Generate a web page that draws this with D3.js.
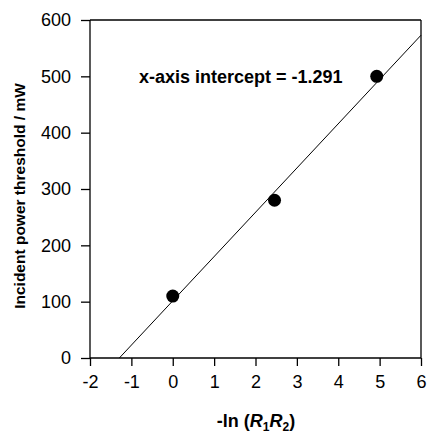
<!DOCTYPE html>
<html>
<head>
<meta charset="utf-8">
<script src="https://cdn.jsdelivr.net/npm/d3@7"></script>
<style>
  body { margin: 0; background: #fff; }
  text { font-family: Arial, "Liberation Sans", sans-serif; fill: #000; }
</style>
</head>
<body>
<script>
const WIDTH = 427;
const HEIGHT = 435;

// measured points
var xValues = [0, 2.46, 4.93];
var yValues = [110, 280, 500];

// fitted line
var fitX = [-1.291, 6];
var fitY = [0, 573];

var xTicks = [-2, -1, 0, 1, 2, 3, 4, 5, 6];
var yTicks = [0, 100, 200, 300, 400, 500, 600];
var annotation = 'x-axis intercept = -1.291';

var plotLeft = 90, plotRight = 421, plotTop = 20, plotBottom = 358;

var svg = d3.select('body').append('svg')
    .attr('width', WIDTH)
    .attr('height', HEIGHT);

var xScale = d3.scaleLinear()
    .domain([-2, 6])
    .range([plotLeft, plotRight]);
var yScale = d3.scaleLinear()
    .domain([0, 600])
    .range([plotBottom, plotTop]);

var xAxis = d3.axisBottom(xScale).tickValues(xTicks).tickSize(8).tickPadding(9)
    .tickFormat(function (d) { return String(d); });
var yAxis = d3.axisLeft(yScale).tickValues(yTicks).tickSize(9).tickPadding(10);

var gx = svg.append('g')
    .attr('transform', 'translate(0,' + plotBottom + ')')
    .call(xAxis);
var gy = svg.append('g')
    .attr('transform', 'translate(' + plotLeft + ',0)')
    .call(yAxis);

[gx, gy].forEach(function (g) {
    g.select('.domain').attr('stroke', '#000').attr('stroke-width', 1.3);
    g.selectAll('.tick line').attr('stroke', '#000').attr('stroke-width', 1.3);
    g.selectAll('.tick text')
        .attr('font-size', 18)
        .attr('font-family', 'Arial, "Liberation Sans", sans-serif')
        .attr('fill', '#000');
});
gx.select('.domain').attr('d', 'M' + plotLeft + ',0H' + plotRight);
gy.select('.domain').attr('d', 'M0,' + plotTop + 'V' + plotBottom);

// frame top and right
svg.append('line')
    .attr('x1', plotLeft).attr('x2', plotRight)
    .attr('y1', yScale(600)).attr('y2', yScale(600))
    .attr('stroke', '#000').attr('stroke-width', 1.3);
svg.append('line')
    .attr('x1', plotRight).attr('x2', plotRight)
    .attr('y1', yScale(600)).attr('y2', yScale(0))
    .attr('stroke', '#000').attr('stroke-width', 1.3);

// fit line
var line = d3.line()
    .x(function (d, i) { return xScale(fitX[i]); })
    .y(function (d, i) { return yScale(fitY[i]); });
svg.append('path')
    .attr('d', line(fitX))
    .attr('fill', 'none')
    .attr('stroke', '#000')
    .attr('stroke-width', 1);

svg.selectAll('circle.pt')
    .data(xValues)
    .enter()
    .append('circle')
    .attr('class', 'pt')
    .attr('cx', function (d) { return xScale(d); })
    .attr('cy', function (d, i) { return yScale(yValues[i]); })
    .attr('r', 6.5)
    .attr('fill', '#000');

svg.append('text')
    .attr('x', 139)
    .attr('y', 83)
    .attr('font-size', 18)
    .attr('font-weight', 'bold')
    .text(annotation);

// axis titles
svg.append('text')
    .attr('transform', 'translate(25,196) rotate(-90)')
    .attr('text-anchor', 'middle')
    .attr('font-size', 15.5)
    .attr('font-weight', 'bold')
    .text('Incident power threshold / mW');

var xl = svg.append('text')
    .attr('x', 256)
    .attr('y', 427)
    .attr('text-anchor', 'middle')
    .attr('font-size', 18)
    .attr('font-weight', 'bold');
xl.append('tspan').text('-ln (');
xl.append('tspan').attr('font-style', 'italic').text('R');
xl.append('tspan').attr('font-size', 12).attr('dy', 4).text('1');
xl.append('tspan').attr('font-style', 'italic').attr('dy', -4).text('R');
xl.append('tspan').attr('font-size', 12).attr('dy', 4).text('2');
xl.append('tspan').attr('dy', -4).text(')');
</script>
</body>
</html>
